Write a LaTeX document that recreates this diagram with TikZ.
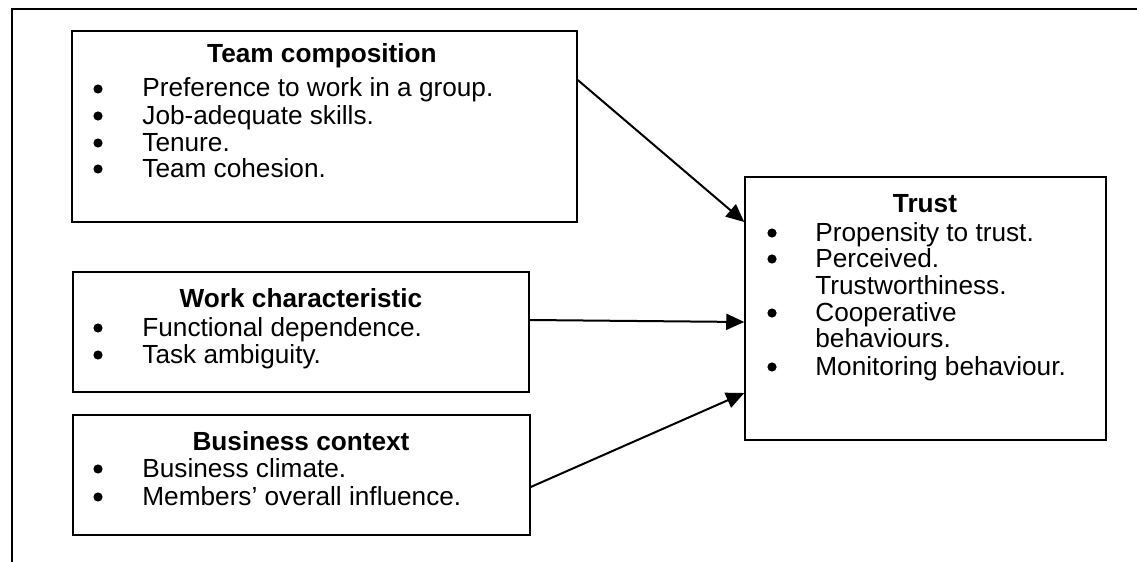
\documentclass[tikz,border=0pt]{standalone}
\usepackage{fontspec}
\setmainfont{Liberation Sans}
\usetikzlibrary{arrows.meta,fit}

\tikzset{
  frameline/.style={line width=0.8pt},
  box/.style={draw, line width=0.75pt, inner sep=0pt},
  head/.style={anchor=base, font=\bfseries\fontsize{13.1}{14}\selectfont},
  item/.style={anchor=base west, inner sep=0pt, font=\fontsize{13.1}{14}\selectfont},
  arr/.style={line width=1pt, -{Triangle[length=9pt,width=8pt]}}
}
\newcommand{\bul}[2]{\fill (#1,#2) circle[radius=2.3pt];}

\begin{document}
\begin{tikzpicture}[x=0.5pt,y=-0.5pt]
  \useasboundingbox (0,0) rectangle (1137,562);

  % page frame (top and left edges)
  \draw[frameline] (1137,9) -- (12,9) -- (12,562);

  % boxes
  \node[box, fit={(72,31) (577,222)}] (tc) {};
  \node[box, fit={(73,272) (529,392)}] (wc) {};
  \node[box, fit={(73,415) (530,535)}] (bc) {};
  \node[box, fit={(745,177) (1106,440)}] (tr) {};

  % Team composition
  \node[head] (tch) at (322,62) {Team composition};
  \bul{98}{89}  \node[item] (tc1) at (142,97)  {Preference to work in a group.};
  \bul{98}{116} \node[item] (tc2) at (142,124) {Job-adequate skills.};
  \bul{98}{143} \node[item] (tc3) at (142,151) {Tenure.};
  \bul{98}{169} \node[item] (tc4) at (142,177) {Team cohesion.};

  % Work characteristic
  \node[head] (wch) at (301,307) {Work characteristic};
  \bul{98}{328} \node[item] (wc1) at (142,336) {Functional dependence.};
  \bul{98}{355} \node[item] (wc2) at (142,363) {Task ambiguity.};

  % Business context
  \node[head] (bch) at (301,450) {Business context};
  \bul{98}{469} \node[item] (bc1) at (142,477) {Business climate.};
  \bul{98}{497} \node[item] (bc2) at (142,505) {Members’ overall influence.};

  % Trust
  \node[head] (trh) at (925,212) {Trust};
  \bul{772}{233} \node[item] (tr1) at (815,241) {Propensity to trust.};
  \bul{772}{259} \node[item] (tr2) at (815,267) {Perceived.};
                 \node[item] (tr3) at (815,294) {Trustworthiness.};
  \bul{772}{313} \node[item] (tr4) at (815,321) {Cooperative};
                 \node[item] (tr5) at (815,347) {behaviours.};
  \bul{772}{367} \node[item] (tr6) at (815,375) {Monitoring behaviour.};

  % influences on trust
  \draw[arr] (tc.east |- 0,80)  -- (tr.west |- 0,222);
  \draw[arr] (wc.east |- 0,320) -- (tr.west |- 0,322);
  \draw[arr] (bc.east |- 0,487) -- (tr.west |- 0,393);
\end{tikzpicture}
\end{document}
